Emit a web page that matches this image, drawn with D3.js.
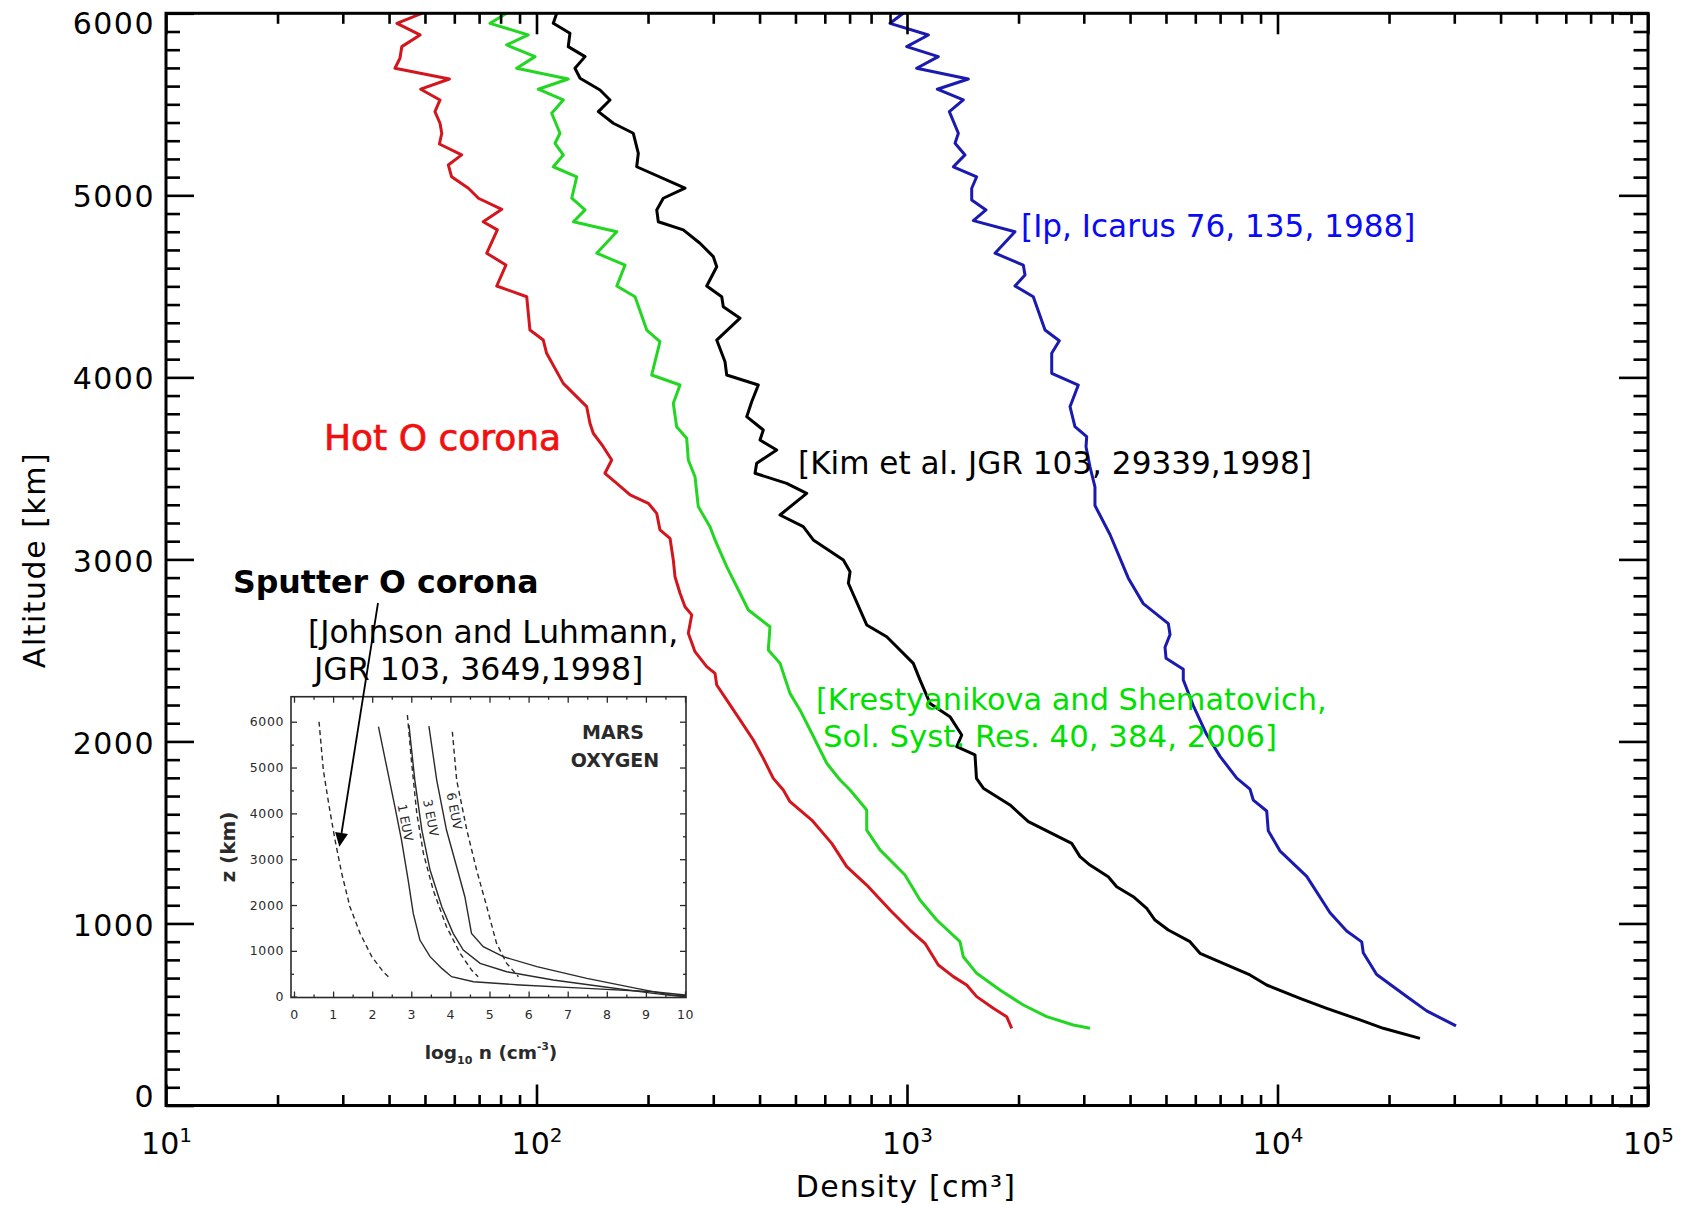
<!DOCTYPE html>
<html>
<head>
<meta charset="utf-8">
<script src="https://cdn.jsdelivr.net/npm/d3@7"></script>
<style>
  html, body { margin: 0; padding: 0; background: #fff; }
  svg { display: block; }
  text { font-family: "DejaVu Sans", sans-serif; }
</style>
</head>
<body>
<svg id="chart" width="1682" height="1205"></svg>
<script>
// ---- Hot oxygen corona profiles: altitude (km) and density (cm^-3) ----
// Hot O corona (red)
const hotAlt = [6000,5945,5881,5817,5753,5698,5639,5583,5524,5460,5396,5341,5282,5222,5167,5102,5039,4984,4923,4855,
  4810,4682,4617,4502,4443,4260,4205,4132,3967,3839,3748,3693,3619,3546,3473,3418,3354,3308,3253,3162,
  3116,2997,2905,2814,2740,2695,2594,2493,2411,2374,2310,2228,2118,2008,1907,1797,1733,1669,1568,1440,
  1312,1211,1074,964,891,772,708,662,598,534,488,424];
const hotDen = [49.0,42.0,48.5,43.3,42.8,41.5,58.2,48.7,54.9,53.2,54.9,55.5,54.7,62.8,57.8,59.0,65.5,69.7,80.6,71.8,
  78.4,73.4,82.7,78.1,94.1,96.0,104.3,106.5,118.1,136.6,139.4,142.3,151.4,159.6,153.0,164.7,178.9,200.4,211.1,215.4,
  229.3,234.0,236.5,244.0,251.7,262.4,256.9,267.8,288.0,303.3,306.5,326.1,354.3,384.8,409.4,435.6,463.6,483.3,553.3,626.5,
  687.6,778.5,899.9,1019,1118,1215,1334,1449,1542,1710,1858,1917];

// Krestyanikova and Shematovich 2006 (green)
const ksAlt = [6000,5945,5881,5826,5762,5698,5639,5583,5524,5451,5341,5286,5222,5157,5102,4984,4920,4855,4800,4682,
  4617,4502,4443,4260,4196,4013,3958,3858,3729,3665,3546,3454,3290,3180,3107,2960,2814,2722,2630,2502,
  2429,2264,2173,2045,1880,1788,1733,1623,1513,1404,1266,1129,1019,900,817,726,635,552,488,442,424];
const ksDen = [83.1,74.9,95.0,83.1,99.1,88.4,121.8,101.1,118.1,109.9,115.7,112.2,118.1,111.0,128.4,124.5,135.2,125.8,164.7,145.4,
  173.4,164.7,184.5,198.4,215.4,204.6,244.0,234.0,238.9,254.3,256.9,267.8,273.3,293.9,303.3,326.1,354.3,373.1,426.8,422.3,
  454.2,483.3,514.2,553.3,607.3,659.7,702.0,778.5,778.5,845.5,987.6,1084,1203,1390,1419,1542,1782,2060,2383,2811,3118];

// Kim et al. 1998 (black)
const kimAlt = [6000,5945,5890,5817,5762,5698,5643,5579,5524,5460,5396,5341,5231,5157,5039,4984,4920,4855,4810,4737,
  4663,4608,4502,4443,4388,4325,4205,4086,4013,3958,3866,3784,3711,3656,3601,3528,3473,3418,3363,3244,
  3180,3107,2997,2932,2869,2640,2575,2429,2338,2209,2136,2035,1971,1926,1797,1743,1651,1559,1440,1367,
  1321,1257,1202,1147,1083,1019,964,900,836,717,662,589,534,470,424,369];
const kimDen = [113.4,111.0,123.1,121.8,135.2,127.0,131.1,148.4,157.9,146.9,161.2,182.5,188.3,186.4,251.7,219.9,211.1,213.2,249.0,276.2,
  300.1,306.5,288.0,316.2,319.3,354.3,306.5,322.7,326.1,396.9,380.9,369.3,409.4,401.1,444.9,392.9,388.9,473.5,536.2,454.2,
  524.9,558.5,673.3,702.0,694.6,778.5,881.7,1040,1084,1154,1306,1405,1362,1526,1540,1607,1897,2126,2783,2930,
  3118,3493,3681,4081,4436,4670,5074,5805,6177,8428,9350,11500,13580,16700,19300,24240];

// Ip 1988 (blue)
const ipAlt = [6000,5945,5881,5817,5762,5698,5639,5583,5524,5460,5341,5286,5222,5157,5102,5039,4974,4920,4861,4800,
  4682,4617,4562,4502,4443,4260,4201,4132,4022,3958,3839,3729,3674,3619,3509,3399,3296,3137,2897,2757,
  2647,2587,2517,2457,2397,2338,2197,2038,1918,1798,1738,1678,1618,1509,1399,1259,1059,959,899,839,
  720,599,520,437];
const ipDen = [977.2,899.9,1142,998.2,1215,1062,1464,1207,1419,1301,1376,1348,1434,1334,1542,1495,1495,1634,1510,1956,
  1728,2060,2082,1956,2192,2358,2577,2458,2458,2900,2754,2840,3055,3042,3118,3216,3216,3531,3957,4343,
  5074,5128,4971,5002,5568,5568,5925,6440,6997,7762,8428,8602,9350,9443,10150,11990,13860,15370,16880,17040,
  18520,22320,25270,30330];

// Axis ticks
const xMajor = [1e1, 1e2, 1e3, 1e4, 1e5];
const yMajor = [0, 1000, 2000, 3000, 4000, 5000, 6000];

// ---- Inset: Johnson & Luhmann (1998) sputter / EUV profiles, log10 n vs z (km) ----
const sputLog = [0.64,0.75,0.90,1.05,1.22,1.43,1.69,1.99,2.28,2.46];
const sputZ   = [6000,4945,4145,3418,2691,1964,1382,873,545,400];
const euv1Log = [2.16,2.37,2.58,2.75,2.92,3.05,3.22,3.48,3.78,4.03,4.59,5.78,7.49,9.19,10];
const euv1Z   = [5891,5018,4145,3418,2545,1818,1236,873,618,436,327,255,182,109,36];
const euv3dLog = [2.90,3.01,3.14,3.31,3.56,3.90,4.25,4.54,4.71];
const euv3dZ   = [6145,5091,4000,3127,2327,1527,945,582,436];
const euv3Log = [2.94,3.09,3.27,3.48,3.78,4.07,4.33,4.76,5.44,6.63,7.91,9.19,10];
const euv3Z   = [5927,4727,3636,2764,1964,1382,1018,727,545,364,218,73,0];
const euv6Log = [3.45,3.65,3.90,4.16,4.37,4.54,4.84,5.35,6.21,7.49,8.76,9.62,10];
const euv6Z   = [5905,4727,3636,2836,2182,1382,1091,873,655,400,182,36,20];
const euv6dLog = [4.05,4.16,4.42,4.67,4.93,5.18,5.44,5.74];
const euv6dZ   = [5782,4727,3636,2764,1964,1164,727,436];
const insetXTicks = [0,1,2,3,4,5,6,7,8,9,10];
const insetYTicks = [0,1000,2000,3000,4000,5000,6000];

// ---------------------------------------------------------------------
const svg = d3.select("#chart");

const x = d3.scaleLog().domain([1e1, 1e5]).range([166, 1648]);
const y = d3.scaleLinear().domain([0, 6000]).range([1105.5, 13.3]);

const profile = d3.line().x(d => x(d[1])).y(d => y(d[0]));

const series = [
  { alt: hotAlt, den: hotDen, color: "#d3161d" },
  { alt: ksAlt,  den: ksDen,  color: "#22d622" },
  { alt: kimAlt, den: kimDen, color: "#000000" },
  { alt: ipAlt,  den: ipDen,  color: "#1a1ab0" }
];

const curves = svg.append("g");
series.forEach(s => {
  curves.append("path")
    .datum(d3.zip(s.alt, s.den))
    .attr("d", profile)
    .attr("fill", "none")
    .attr("stroke", s.color)
    .attr("stroke-width", 3)
    .attr("stroke-linejoin", "round");
});

// ---- axes ----
const xMinor = x.ticks().filter(v => Math.abs(Math.log10(v) - Math.round(Math.log10(v))) > 1e-9);
const yMinor = d3.range(100, 6000, 100).filter(v => v % 1000 !== 0);

function clean(g) {
  g.select(".domain").remove();
  g.selectAll(".tick line").attr("stroke", "#000").attr("stroke-width", 2.6);
  g.attr("font-family", "DejaVu Sans").attr("font-size", 30);
}

// left
svg.append("g").attr("transform", "translate(166,0)")
  .call(d3.axisLeft(y).tickValues(yMajor).tickSize(-28).tickPadding(11).tickFormat(d3.format("d")))
  .call(clean)
  .call(g => g.selectAll(".tick text")
    .attr("letter-spacing", 1.5)
    .attr("fill", "#000")
    .attr("dy", d => d === 6000 ? 20 : d === 0 ? 1 : 11.6));
svg.append("g").attr("transform", "translate(166,0)")
  .call(d3.axisLeft(y).tickValues(yMinor).tickSize(-14).tickFormat(""))
  .call(clean);

// right
svg.append("g").attr("transform", "translate(1648,0)")
  .call(d3.axisRight(y).tickValues(yMajor).tickSize(-29).tickFormat(""))
  .call(clean);
svg.append("g").attr("transform", "translate(1648,0)")
  .call(d3.axisRight(y).tickValues(yMinor).tickSize(-14.5).tickFormat(""))
  .call(clean);

// bottom
svg.append("g").attr("transform", "translate(0,1105.5)")
  .call(d3.axisBottom(x).tickValues(xMajor).tickSize(-21).tickPadding(27).tickFormat(() => ""))
  .call(clean)
  .call(g => g.selectAll(".tick text").each(function (d) {
    const t = d3.select(this).attr("fill", "#000");
    t.append("tspan").text("10");
    t.append("tspan").attr("dy", -12).attr("font-size", 20).text(Math.round(Math.log10(d)));
  }));
svg.append("g").attr("transform", "translate(0,1105.5)")
  .call(d3.axisBottom(x).tickValues(xMinor).tickSize(-10.5).tickFormat(""))
  .call(clean);

// top
svg.append("g").attr("transform", "translate(0,13.3)")
  .call(d3.axisTop(x).tickValues(xMajor).tickSize(-21).tickFormat(""))
  .call(clean);
svg.append("g").attr("transform", "translate(0,13.3)")
  .call(d3.axisTop(x).tickValues(xMinor).tickSize(-10.5).tickFormat(""))
  .call(clean);

// frame
svg.append("rect")
  .attr("x", x.range()[0]).attr("y", y.range()[1])
  .attr("width", x.range()[1] - x.range()[0])
  .attr("height", y.range()[0] - y.range()[1])
  .attr("fill", "none").attr("stroke", "#000").attr("stroke-width", 3);

// axis titles
svg.append("text")
  .attr("x", 906).attr("y", 1197)
  .attr("text-anchor", "middle")
  .attr("font-size", 30).attr("letter-spacing", 1.2)
  .text("Density [cm³]");
svg.append("text")
  .attr("transform", "translate(45,560) rotate(-90)")
  .attr("text-anchor", "middle")
  .attr("font-size", 30).attr("letter-spacing", 1.5)
  .text("Altitude [km]");

// ---- annotations ----
svg.append("text").attr("x", 324).attr("y", 450).attr("font-size", 36)
  .attr("fill", "#f01010").attr("stroke", "#f01010").attr("stroke-width", 0.7)
  .text("Hot O corona");
svg.append("text").attr("x", 1021).attr("y", 237).attr("font-size", 31.1)
  .attr("fill", "#0a0af5").text("[Ip, Icarus 76, 135, 1988]");
svg.append("text").attr("x", 798).attr("y", 474).attr("font-size", 31.1)
  .attr("fill", "#000").text("[Kim et al. JGR 103, 29339,1998]");
svg.append("text").attr("x", 816).attr("y", 710).attr("font-size", 30.4)
  .attr("fill", "#00e000").text("[Krestyanikova and Shematovich,");
svg.append("text").attr("x", 823).attr("y", 747).attr("font-size", 30.8)
  .attr("fill", "#00e000").text("Sol. Syst. Res. 40, 384, 2006]");
svg.append("text").attr("x", 233).attr("y", 593).attr("font-size", 31.6)
  .attr("font-weight", "bold").attr("fill", "#000").text("Sputter O corona");
svg.append("text").attr("x", 308).attr("y", 643).attr("font-size", 31.3)
  .attr("fill", "#000").text("[Johnson and Luhmann,");
svg.append("text").attr("x", 314).attr("y", 680).attr("font-size", 31.6)
  .attr("fill", "#000").text("JGR 103, 3649,1998]");

// ---- inset plot ----
const xi = d3.scaleLinear().domain([0, 10]).range([294, 685]);
const yi = d3.scaleLinear().domain([0, 6000]).range([996.7, 721.7]);
const inset = svg.append("g");
const box = { x0: 291, x1: 686, y0: yi(6545), y1: 997.5 };
const ink = "#2a2a2a";

inset.append("rect")
  .attr("x", box.x0).attr("y", box.y0)
  .attr("width", box.x1 - box.x0).attr("height", box.y1 - box.y0)
  .attr("fill", "#fff").attr("stroke", ink).attr("stroke-width", 1.6);

const insetCurves = [
  { lg: sputLog,  z: sputZ,  dash: "5,3.5" },
  { lg: euv1Log,  z: euv1Z,  dash: null },
  { lg: euv3dLog, z: euv3dZ, dash: "5,3.5" },
  { lg: euv3Log,  z: euv3Z,  dash: null },
  { lg: euv6Log,  z: euv6Z,  dash: null },
  { lg: euv6dLog, z: euv6dZ, dash: "5,3.5" }
];
const insetLine = d3.line().x(d => xi(d[0])).y(d => yi(d[1]));
insetCurves.forEach(c => {
  inset.append("path")
    .datum(d3.zip(c.lg, c.z))
    .attr("d", insetLine)
    .attr("fill", "none")
    .attr("stroke", ink)
    .attr("stroke-width", 1.4)
    .attr("stroke-dasharray", c.dash);
});

function insetClean(g) {
  g.select(".domain").remove();
  g.selectAll(".tick line").attr("stroke", ink).attr("stroke-width", 1.3);
  g.attr("font-family", "Liberation Sans").attr("font-size", 12.5);
  g.selectAll(".tick text").attr("fill", ink).attr("letter-spacing", 0.6);
}
const insetXMinor = d3.range(0.5, 10, 1);
const insetYMinor = d3.range(500, 6500, 1000);

inset.append("g").attr("transform", `translate(0,${box.y1})`)
  .call(d3.axisBottom(xi).tickValues(insetXTicks).tickSize(-6).tickPadding(12.5).tickFormat(d3.format("d")))
  .call(insetClean);
inset.append("g").attr("transform", `translate(0,${box.y1})`)
  .call(d3.axisBottom(xi).tickValues(insetXMinor).tickSize(-3).tickFormat(""))
  .call(insetClean);
inset.append("g").attr("transform", `translate(0,${box.y0})`)
  .call(d3.axisTop(xi).tickValues(insetXTicks).tickSize(-6).tickFormat(""))
  .call(insetClean);
inset.append("g").attr("transform", `translate(0,${box.y0})`)
  .call(d3.axisTop(xi).tickValues(insetXMinor).tickSize(-3).tickFormat(""))
  .call(insetClean);
inset.append("g").attr("transform", `translate(${box.x0},0)`)
  .call(d3.axisLeft(yi).tickValues(insetYTicks).tickSize(-6).tickPadding(7).tickFormat(d3.format("d")))
  .call(insetClean);
inset.append("g").attr("transform", `translate(${box.x0},0)`)
  .call(d3.axisLeft(yi).tickValues(insetYMinor).tickSize(-3).tickFormat(""))
  .call(insetClean);
inset.append("g").attr("transform", `translate(${box.x1},0)`)
  .call(d3.axisRight(yi).tickValues(insetYTicks).tickSize(-6).tickFormat(""))
  .call(insetClean);
inset.append("g").attr("transform", `translate(${box.x1},0)`)
  .call(d3.axisRight(yi).tickValues(insetYMinor).tickSize(-3).tickFormat(""))
  .call(insetClean);

// inset labels
const insetFont = "Liberation Sans";
const xl = inset.append("text")
  .attr("x", 491).attr("y", 1059)
  .attr("text-anchor", "middle")
  .attr("font-family", insetFont).attr("font-weight", "bold").attr("font-size", 18.5)
  .attr("fill", ink);
xl.append("tspan").text("log");
xl.append("tspan").attr("font-size", 11).attr("dy", 5).text("10");
xl.append("tspan").attr("dy", -5).text(" n (cm");
xl.append("tspan").attr("font-size", 10.5).attr("dy", -9).text("-3");
xl.append("tspan").attr("dy", 9).text(")");

inset.append("text")
  .attr("transform", "translate(235,847) rotate(-90)")
  .attr("text-anchor", "middle")
  .attr("font-family", insetFont).attr("font-weight", "bold").attr("font-size", 20)
  .attr("fill", ink).text("z (km)");

inset.append("text").attr("x", 613).attr("y", 739).attr("text-anchor", "middle")
  .attr("font-family", insetFont).attr("font-weight", "bold").attr("font-size", 19)
  .attr("fill", ink).text("MARS");
inset.append("text").attr("x", 615).attr("y", 767).attr("text-anchor", "middle")
  .attr("font-family", insetFont).attr("font-weight", "bold").attr("font-size", 19)
  .attr("fill", ink).text("OXYGEN");

[["1 EUV", 2.85, 3800], ["3 EUV", 3.5, 3900], ["6 EUV", 4.1, 4050]].forEach(([lab, lg, z]) => {
  inset.append("text")
    .attr("transform", `translate(${xi(lg)},${yi(z)}) rotate(79)`)
    .attr("text-anchor", "middle").attr("dy", "0.35em")
    .attr("font-family", insetFont).attr("font-size", 12.5)
    .attr("fill", ink).text(lab);
});

// arrow from the sputter label into the inset sputter profile
const tip = [xi(1.16), yi(3270)];
const start = [378, 603];
const ang = Math.atan2(tip[1] - start[1], tip[0] - start[0]);
const headLen = 14, headW = 6.5;
const base = [tip[0] - headLen * Math.cos(ang), tip[1] - headLen * Math.sin(ang)];
svg.append("line")
  .attr("x1", start[0]).attr("y1", start[1])
  .attr("x2", base[0]).attr("y2", base[1])
  .attr("stroke", "#000").attr("stroke-width", 1.8);
svg.append("path")
  .attr("d", `M${tip[0]},${tip[1]}` +
    `L${base[0] + headW * Math.sin(ang)},${base[1] - headW * Math.cos(ang)}` +
    `L${base[0] - headW * Math.sin(ang)},${base[1] + headW * Math.cos(ang)}Z`)
  .attr("fill", "#000");
</script>
</body>
</html>
